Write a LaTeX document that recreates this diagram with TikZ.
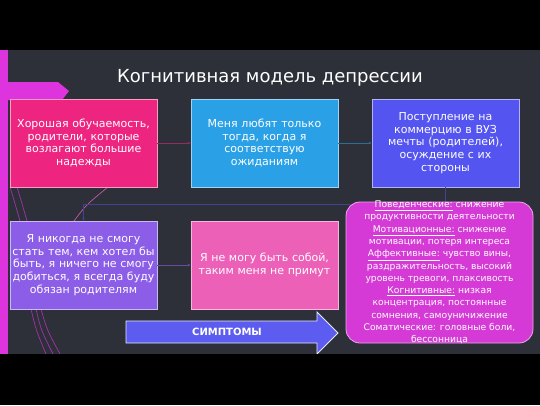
\documentclass[tikz,border=0pt]{standalone}
\usepackage{fontspec}
\setmainfont{DejaVu Sans}
\usetikzlibrary{arrows.meta}
\definecolor{bgc}{RGB}{45,48,56}
\definecolor{magbar}{RGB}{222,52,222}
\definecolor{cA}{RGB}{238,37,128}
\definecolor{cB}{RGB}{42,160,230}
\definecolor{cC}{RGB}{84,84,240}
\definecolor{cD}{RGB}{140,94,232}
\definecolor{cE}{RGB}{236,96,184}
\definecolor{cF}{RGB}{214,58,214}
\definecolor{cG}{RGB}{92,92,240}
\definecolor{deco}{RGB}{190,50,200}
\tikzset{
  card/.style={rectangle, minimum width=147pt, minimum height=88pt, text width=145pt,
    align=center, text=white, line width=0.8pt, inner sep=0pt,
    font=\fontsize{11}{12.7}\selectfont},
  link/.style={line width=0.6pt, -{Stealth[length=3pt,width=2.5pt]}},
  decoline/.style={deco, line width=0.7pt, opacity=0.8}
}
\begin{document}
\begin{tikzpicture}[x=1pt,y=-1pt]
\useasboundingbox (0,0) rectangle (540,405);
\fill[bgc] (0,0) rectangle (540,405);
% left bar and tab
\fill[magbar] (0,50) rectangle (8,354);
\fill[magbar] (0,82) -- (58,82) -- (69,91) -- (62,100) -- (0,100) -- cycle;
% decorative curves
\draw[decoline] (10,187) .. controls (14,200) .. (20,221);
\draw[decoline] (17,187) .. controls (21,200) .. (27,221);
\draw[decoline] (31,309) .. controls (36,330) .. (46,354);
\draw[decoline] (36,309) .. controls (41,330) .. (53,354);
\draw[decoline] (41,309) .. controls (47,330) .. (60,354);
\draw[decoline, color=cE] (74,221) .. controls (86,205) .. (108,187);
% title
\node[text=white, font=\fontsize{18}{22}\selectfont] (title) at (270,78) {Когнитивная модель депрессии};
% cards
\node[card, fill=cA, draw=cA!45!white] (b1) at (83.5,143) {Хорошая обучаемость,\\ родители, которые\\ возлагают большие\\ надежды};
\node[card, fill=cB, draw=cB!45!white] (b2) at (264.5,143) {Меня любят только\\ тогда, когда я\\ соответствую\\ ожиданиям};
\node[card, fill=cC, draw=cC!45!white] (b3) at (445.5,143) {Поступление на\\ коммерцию в ВУЗ\\ мечты (родителей),\\ осуждение с их\\ стороны};
\node[card, fill=cD, draw=cD!45!white] (b4) at (83.5,265) {Я никогда не смогу\\ стать тем, кем хотел бы\\ быть, я ничего не смогу\\ добиться, я всегда буду\\ обязан родителям};
\node[card, fill=cE, draw=cE!45!white] (b5) at (264.5,265) {Я не могу быть собой,\\ таким меня не примут};
% connectors
\draw[link, color=cA!55!bgc] (b1.east) -- (b2.west);
\draw[link, color=cB!55!bgc] (b2.east) -- (b3.west);
\draw[link, color=cC!50!bgc] (b3.south) -- ++(0,17) -| (b4.north);
\draw[link, color=cD!60!bgc] (b4.east) -- (b5.west);
% symptoms box
\node[rectangle, rounded corners=14pt, fill=cF, draw=cF!45!white, line width=0.8pt,
  minimum width=187pt, minimum height=141pt] (sym) at (439.5,272.5) {};
\node[text=white, align=center, inner sep=0pt, font=\fontsize{9.2}{12.3}\selectfont] (symtext) at (sym.center)
 {\underline{Поведенческие:} снижение\\ продуктивности деятельности\\ \underline{Мотивационные:} снижение\\ мотивации, потеря интереса\\ \underline{Аффективные:} чувство вины,\\ раздражительность, высокий\\ уровень тревоги, плаксивость\\ \underline{Когнитивные:} низкая\\ концентрация, постоянные\\ сомнения, самоуничижение\\ Соматические: головные боли,\\ бессонница};
% arrow
\draw[fill=cG, draw=white!85!cG, line width=0.8pt] (126,321) -- (317,321) -- (317,312) -- (338,333) -- (317,354) -- (317,343) -- (126,343) -- cycle;
\node[text=white, font=\bfseries\fontsize{10}{12}\selectfont] (symlabel) at (227,332) {СИМПТОМЫ};
% black bars
\fill[black] (0,0) rectangle (540,50);
\fill[black] (0,354) rectangle (540,405);
\end{tikzpicture}
\end{document}
